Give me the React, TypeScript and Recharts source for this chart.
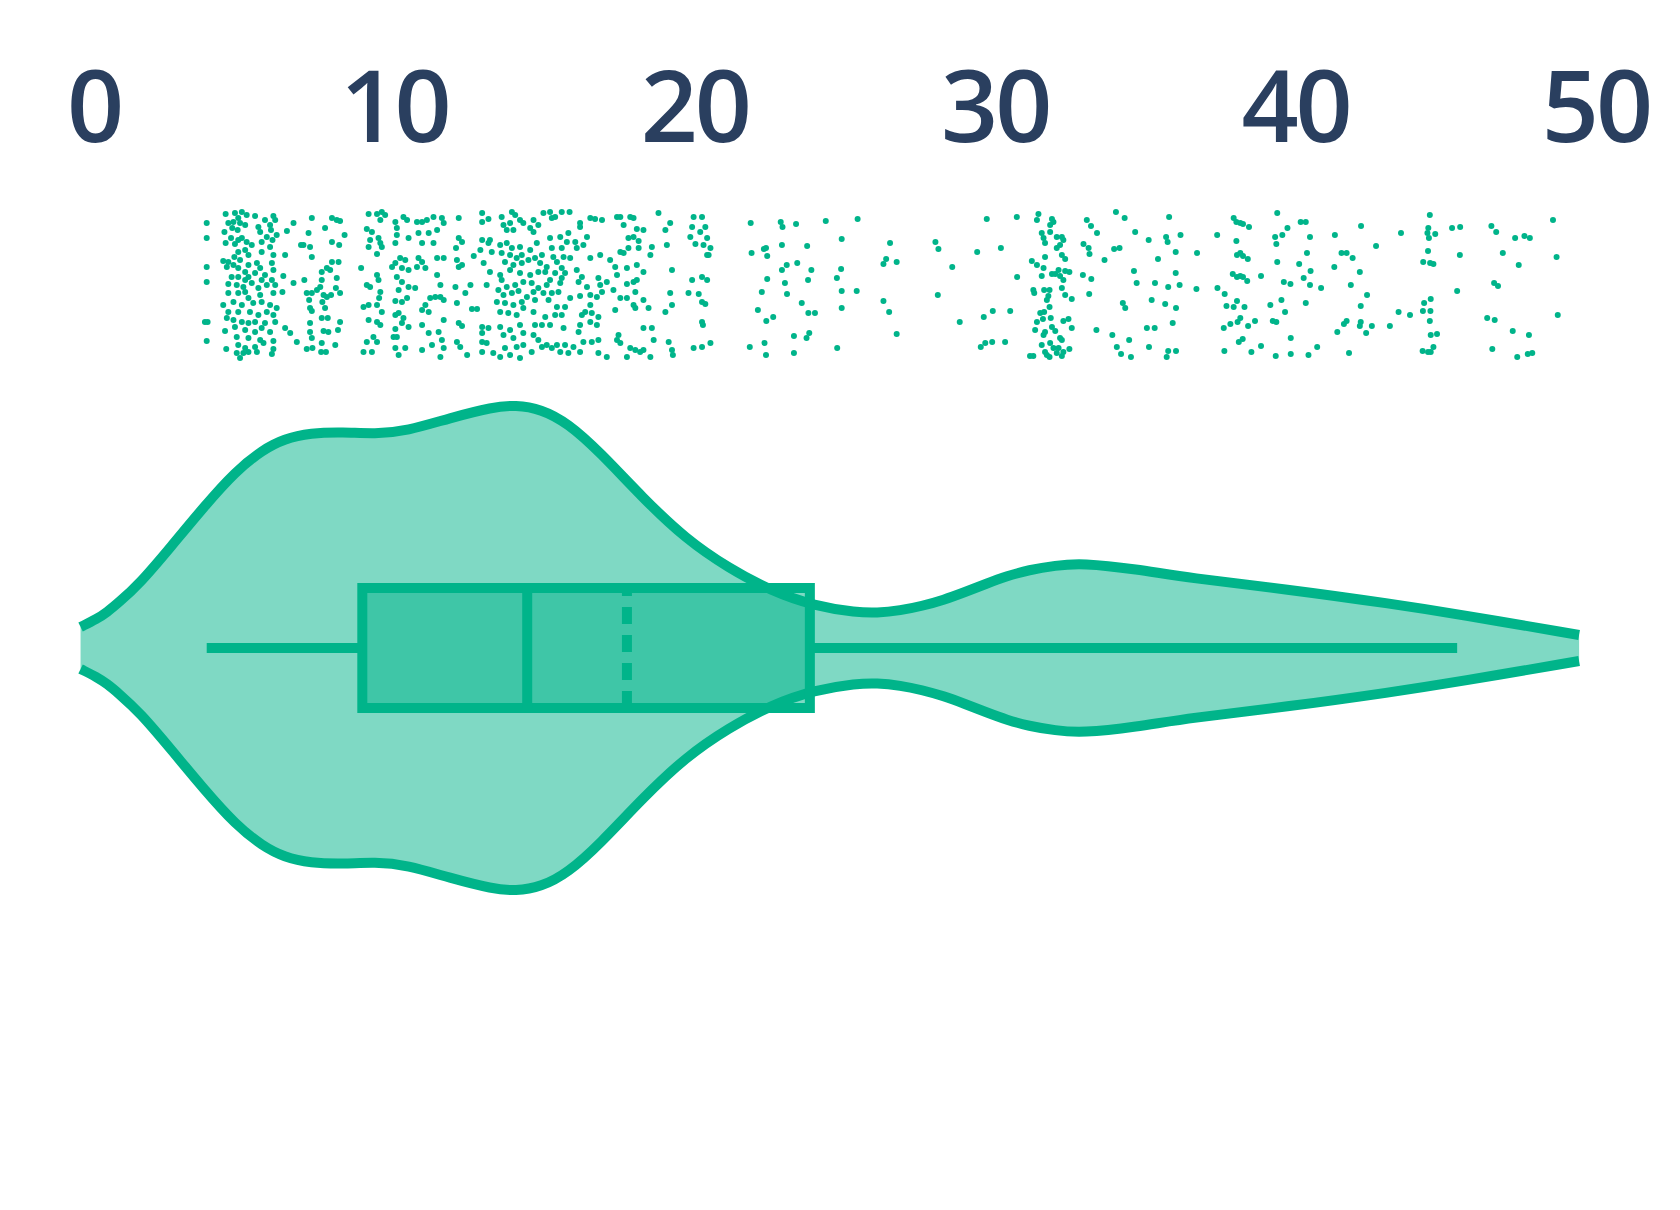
import React from "react"
import {
  ComposedChart,
  Area,
  Scatter,
  XAxis,
  YAxis,
  ReferenceArea,
  ReferenceLine,
} from "recharts"

// axis ticks along the top
const xTicks = [0, 10, 20, 30, 40, 50]

// violin outline: value -> half width (density, drawn mirrored round 0)
const violinX = [
  -0.45, 0.09, 0.44, 0.8, 1.51, 2.58, 3.65, 4.72, 5.61, 6.32, 7.21, 8.28, 9.35, 10.42, 11.85, 13.28, 14.03, 14.88,
  15.77, 16.84, 18.27, 19.7, 21.12, 22.55, 23.98, 25.4, 26.05, 26.85, 27.56, 28.28, 29.0, 29.68, 30.4, 31.11, 32.0,
  32.89, 34.68, 36.46, 39.67, 43.24, 45.38, 49.44,
]
const violinHalfWidth = [
  21, 29, 36, 45, 64, 102, 141, 177, 198, 209, 215, 216, 214, 217, 230, 241, 243, 239, 225, 196, 150, 109, 80, 57,
  42, 35.5, 35, 37.5, 42, 48, 56, 64, 72, 78, 82.5, 85, 79, 70, 59, 44, 34, 13,
]

// box statistics
const whiskerLow = 3.75
const q1 = 8.93
const median = 14.42
const mean = 17.74
const q3 = 23.83
const whiskerHigh = 45.38
const boxHalfHeight = 60

// jittered sample points [value, jitter]
const pointsLow: [number, number][] = [
  [3.75, 425], [3.75, 410], [3.75, 381], [3.75, 366], [3.69, 326], [3.78, 326], [3.75, 307],
  [4.38, 434], [4.69, 435], [4.92, 436], [5.08, 433], [4.8, 430], [4.64, 426], [4.47, 425], [4.86, 425],
  [5.03, 423], [4.78, 418], [4.34, 416], [4.6, 420], [5.36, 432], [5.69, 428], [5.97, 432], [6.03, 428],
  [5.86, 423], [5.47, 421], [5.53, 416], [5.75, 411], [6.08, 413], [5.89, 418], [4.56, 410], [4.8, 408],
  [4.92, 410], [5.08, 406], [4.69, 404], [4.38, 405], [5.25, 403], [5.58, 406], [5.94, 408], [5.86, 401],
  [5.03, 398], [4.8, 396], [4.67, 391], [5.58, 396], [5.97, 393], [5.14, 393], [4.86, 388], [4.3, 387],
  [4.47, 386], [4.42, 381], [4.64, 383], [4.8, 380], [5.03, 376], [5.14, 383], [5.42, 385], [5.53, 380],
  [5.92, 385], [5.97, 378], [5.69, 373], [5.36, 375], [5.14, 371], [4.8, 371], [4.58, 371], [5.03, 368],
  [5.58, 368], [5.92, 368], [4.47, 364], [4.75, 363], [4.97, 361], [5.25, 365], [5.47, 360], [5.75, 363],
  [6.03, 363], [4.47, 355], [4.8, 355], [5.03, 356], [5.14, 350], [5.53, 353], [5.97, 355], [4.3, 343],
  [4.64, 346], [4.92, 343], [5.3, 345], [5.58, 346], [5.86, 343], [6.08, 340], [4.47, 336], [4.8, 336],
  [5.19, 336], [5.47, 333], [5.75, 336], [5.97, 333], [4.42, 330], [4.64, 328], [4.92, 326], [5.14, 325],
  [5.36, 326], [5.69, 325], [6.03, 326], [4.69, 321], [5.03, 318], [5.36, 316], [5.58, 320], [5.86, 316],
  [4.36, 317], [4.75, 311], [5.14, 310], [5.53, 308], [5.97, 307], [4.8, 303], [5.03, 300], [5.36, 301],
  [5.64, 305], [5.97, 299], [4.75, 295], [4.97, 295], [5.14, 296], [4.86, 290], [5.42, 296], [5.92, 294],
  [4.4, 299],
  [6.3, 372], [6.36, 393], [6.27, 356], [6.36, 320], [6.53, 315], [6.42, 417], [6.64, 425], [6.64, 365],
  [6.75, 306], [6.89, 403], [6.97, 403], [7.0, 368], [7.14, 415], [7.19, 401], [7.25, 430], [7.25, 391],
  [7.08, 355], [7.25, 355], [7.16, 348], [7.19, 340], [7.25, 337], [7.19, 325], [7.19, 316], [7.25, 310],
  [7.08, 299], [7.27, 300], [7.42, 358], [7.58, 376], [7.58, 368], [7.53, 361], [7.64, 353], [7.6, 346],
  [7.75, 351], [7.69, 340], [7.58, 330], [7.78, 330], [7.64, 317], [7.8, 316], [7.58, 305], [7.56, 296],
  [7.72, 296], [7.92, 430], [8.08, 428], [8.19, 427], [7.69, 420], [7.92, 406], [8.16, 403], [8.34, 413],
  [7.75, 380], [7.86, 378], [7.92, 386], [8.14, 386], [8.08, 370], [8.19, 355], [7.89, 353], [8.19, 326],
  [8.12, 318], [8.03, 303], [8.05, 360],
]

const pointsMid: [number, number][] = [
  [9.14, 434], [9.42, 434], [9.58, 436], [9.69, 433], [9.53, 428], [9.08, 419], [9.25, 416], [9.47, 410],
  [9.19, 408], [9.14, 401], [9.53, 405], [9.58, 401], [9.42, 394], [10.03, 426], [10.08, 420], [10.3, 431],
  [10.42, 428], [10.08, 413], [10.03, 405], [10.47, 410], [10.75, 426], [10.92, 426], [11.08, 428], [11.3, 431],
  [11.58, 430], [11.64, 425], [11.42, 418], [10.8, 415], [10.92, 405], [11.14, 415], [11.3, 405], [12.14, 430],
  [12.92, 435], [12.92, 426], [12.14, 410], [12.25, 406], [12.05, 400], [12.64, 392], [12.86, 398], [12.92, 408],
  [8.89, 380], [9.19, 361], [9.08, 363], [9.42, 373], [9.47, 368], [9.53, 356], [9.49, 350], [9.14, 343],
  [8.97, 341], [9.42, 343], [9.58, 336], [9.14, 328], [9.42, 326], [9.53, 323], [9.3, 311], [9.42, 306],
  [9.08, 306], [9.25, 296], [8.97, 296], [9.92, 381], [10.03, 385], [10.19, 390], [10.36, 388], [10.47, 378],
  [10.25, 380], [10.08, 371], [10.25, 366], [10.47, 361], [10.69, 360], [10.14, 358], [10.03, 347], [10.25, 346],
  [10.42, 350], [10.03, 333], [10.14, 335], [10.3, 330], [10.25, 325], [10.47, 321], [10.03, 319], [10.08, 311],
  [9.97, 311], [10.36, 300], [10.03, 300], [10.14, 293], [10.8, 390], [10.92, 386], [11.03, 380], [10.75, 381],
  [11.42, 390], [11.64, 390], [11.42, 373], [11.53, 363], [11.53, 351], [11.19, 350], [11.36, 351], [11.64, 348],
  [11.03, 343], [10.92, 338], [11.14, 336], [11.64, 328], [10.92, 323], [11.14, 315], [11.47, 316], [11.58, 308],
  [11.25, 303], [10.92, 298], [11.64, 300], [11.53, 291], [12.08, 388], [12.25, 383], [12.14, 381], [12.03, 361],
  [12.53, 363], [12.36, 355], [12.08, 345], [12.58, 339], [12.75, 339], [12.14, 325], [12.25, 322], [12.92, 321],
  [12.92, 315], [12.08, 306], [12.19, 301], [12.42, 293], [12.92, 306], [12.92, 296], [12.97, 385],
  [13.13, 429], [13.57, 431], [13.91, 436], [14.02, 433], [14.18, 428], [13.85, 425], [13.63, 423], [13.74, 418],
  [13.96, 418], [14.29, 425], [14.63, 428], [14.79, 423], [14.52, 420], [14.96, 435], [15.18, 436], [15.35, 431],
  [15.57, 436], [15.83, 436], [15.24, 430], [14.63, 416], [13.18, 408], [13.13, 405], [13.52, 403], [13.74, 405],
  [13.91, 400], [14.18, 401], [13.24, 396], [13.57, 395], [13.85, 393], [14.07, 390], [14.24, 393], [14.52, 398],
  [14.74, 405], [14.91, 393], [15.18, 410], [15.52, 411], [15.79, 415], [15.74, 406], [15.57, 400], [15.24, 400],
  [15.29, 391], [15.63, 391], [15.85, 390], [14.68, 390], [13.68, 386], [13.96, 383], [14.24, 385], [14.46, 388],
  [14.85, 385], [15.07, 381], [15.41, 386], [15.57, 380], [13.18, 376], [13.52, 373], [13.85, 378], [14.18, 375],
  [14.52, 373], [14.79, 376], [15.02, 376], [15.35, 375], [15.68, 375], [13.07, 363], [13.57, 368], [13.74, 361],
  [14.02, 363], [14.29, 366], [14.57, 365], [14.79, 360], [15.07, 363], [15.18, 368], [15.52, 365], [15.57, 370],
  [13.46, 358], [13.63, 353], [13.91, 355], [14.13, 357], [14.41, 351], [14.63, 356], [14.96, 355], [15.24, 355],
  [15.46, 356], [13.41, 346], [13.68, 345], [13.96, 343], [14.24, 346], [14.68, 348], [15.13, 348], [15.41, 341],
  [15.68, 341], [15.85, 350], [13.52, 336], [13.79, 335], [14.07, 333], [14.29, 340], [14.63, 336], [15.02, 331],
  [15.35, 333], [15.57, 333], [13.13, 320], [13.52, 321], [13.85, 318], [14.18, 323], [14.68, 323], [14.91, 323],
  [15.18, 323], [15.63, 320], [13.63, 313], [13.96, 310], [14.29, 315], [14.63, 313], [14.79, 308], [15.07, 303],
  [15.41, 303], [15.68, 303], [13.07, 305], [13.29, 295], [13.68, 300], [14.07, 301], [14.29, 303], [14.57, 296],
  [14.91, 301], [15.24, 300], [15.52, 296], [13.52, 291], [13.85, 293], [14.18, 290], [15.79, 295],
]

const pointsUpper: [number, number][] = [
  [16.07, 400], [16.18, 421], [16.41, 411], [16.52, 430], [16.68, 429], [16.91, 428], [16.18, 425], [16.29, 403],
  [16.02, 406], [16.07, 378], [16.24, 371], [16.41, 361], [16.18, 352], [16.13, 366], [16.52, 390], [16.85, 393],
  [16.79, 370], [16.85, 363], [17.07, 366], [16.52, 353], [16.74, 351], [16.91, 356], [16.52, 343], [16.35, 336],
  [16.57, 335], [16.79, 331], [16.24, 333], [16.18, 323], [16.52, 326], [16.74, 323], [16.13, 316], [16.29, 306],
  [16.57, 306], [16.79, 308], [15.96, 301], [16.18, 296], [16.79, 295], [17.07, 291], [17.41, 431], [17.52, 431],
  [17.85, 431], [17.96, 430], [17.63, 423], [18.07, 419], [18.29, 418], [17.79, 410], [17.96, 411], [18.13, 407],
  [17.52, 396], [17.63, 395], [17.79, 400], [18.13, 400], [18.52, 393], [18.57, 401], [17.18, 388], [17.35, 381],
  [17.74, 380], [18.07, 383], [18.29, 376], [17.41, 373], [17.74, 364], [17.96, 366], [18.07, 368], [17.29, 358],
  [17.52, 350], [17.74, 350], [18.02, 356], [18.29, 348], [17.96, 343], [18.02, 340], [18.46, 340], [17.35, 338],
  [17.46, 313], [17.41, 308], [17.52, 305], [17.85, 300], [18.29, 320], [18.57, 320], [18.02, 298], [18.18, 296],
  [18.29, 298], [17.74, 291], [18.52, 291], [18.63, 308], [18.79, 435], [19.02, 418], [19.18, 425], [19.07, 403],
  [19.24, 378], [19.18, 355], [19.24, 343], [19.02, 336], [19.13, 306], [19.24, 298], [19.27, 293],
  [19.96, 431], [20.24, 431], [19.91, 421], [20.18, 416], [20.35, 421], [19.85, 411], [20.41, 410], [20.02, 404],
  [20.29, 403], [20.52, 400], [20.41, 393], [20.46, 393], [19.91, 368], [20.24, 371], [20.41, 368], [19.79, 355],
  [20.13, 354], [20.24, 346], [20.35, 344], [20.24, 326], [20.27, 323], [19.96, 300], [20.24, 301], [20.52, 305],
  [21.86, 425], [22.86, 426], [22.92, 421], [23.37, 424], [24.36, 427], [25.42, 429], [21.89, 395], [22.3, 399],
  [22.37, 400], [22.41, 392], [22.9, 403], [23.74, 402], [24.89, 409], [26.5, 405], [23.06, 383], [22.9, 378],
  [23.41, 385], [23.88, 378], [24.87, 379], [22.41, 369], [23.0, 365], [23.77, 368], [24.73, 370], [22.23, 356],
  [23.07, 354], [24.89, 357], [25.39, 357], [23.56, 345], [22.1, 338], [22.38, 327], [22.61, 331], [23.78, 335],
  [24.0, 335], [24.89, 340], [23.3, 312], [23.81, 315], [23.72, 310], [21.83, 301], [22.32, 305], [22.37, 293],
  [23.3, 295], [24.74, 300], [26.37, 389], [26.28, 384], [26.72, 386], [26.28, 347], [26.47, 336], [26.72, 314],
  [28.01, 406], [28.11, 399], [28.57, 381], [28.09, 353], [28.82, 326], [29.72, 429], [30.72, 431], [29.4, 396],
  [30.19, 400], [30.73, 371], [29.62, 331], [29.92, 337], [30.5, 337], [29.52, 301], [29.67, 305], [29.9, 306],
  [30.33, 306],
]

const pointsHigh: [number, number][] = [
  [31.44, 434], [31.39, 428], [31.89, 429], [31.94, 426], [31.83, 423], [31.55, 415], [31.61, 410], [31.66, 405],
  [32.05, 411], [32.22, 411], [32.27, 408], [31.83, 416], [32.16, 403], [32.05, 400], [31.66, 391], [32.22, 393],
  [32.33, 389], [31.22, 387], [31.39, 383], [31.61, 380], [31.89, 374], [32.0, 374], [32.11, 378], [32.33, 377],
  [32.47, 376], [32.16, 372], [32.27, 368], [31.55, 372], [31.27, 358], [31.3, 355], [31.63, 358], [31.81, 358],
  [31.77, 352], [31.72, 348], [32.22, 360], [32.33, 353], [32.55, 349], [31.81, 341], [31.5, 335], [31.63, 336],
  [31.39, 326], [31.59, 329], [31.85, 330], [31.89, 321], [32.0, 317], [31.66, 316], [31.61, 313], [31.33, 318],
  [32.27, 327], [32.44, 329], [32.55, 320], [32.16, 310], [32.22, 308], [31.83, 305], [31.55, 303], [31.94, 300],
  [32.11, 300], [32.47, 299], [31.66, 296], [31.72, 293], [32.05, 295], [32.27, 296], [32.22, 292], [31.16, 292],
  [31.27, 292], [31.81, 291],
  [33.05, 428], [33.19, 422], [33.39, 415], [32.94, 404], [33.11, 400], [33.14, 394], [33.64, 388], [32.92, 373],
  [33.2, 369], [33.13, 354], [34.02, 436], [34.31, 430], [33.96, 399], [34.14, 400], [34.66, 416], [35.11, 408],
  [35.69, 411], [35.74, 406], [36.17, 413], [35.79, 431], [34.62, 377], [34.71, 365], [35.32, 365], [35.42, 389],
  [36.01, 396], [36.01, 375], [35.76, 361], [36.14, 363], [36.72, 395], [36.7, 359], [34.25, 345], [34.33, 340],
  [35.21, 348], [35.66, 344], [36.02, 340], [35.91, 325], [33.37, 318], [33.9, 313], [34.46, 308], [35.05, 320],
  [35.31, 320], [34.05, 301], [34.19, 294], [34.52, 291], [35.12, 301], [35.76, 297], [36.02, 297], [35.71, 291],
  [37.39, 413], [37.94, 430], [38.03, 426], [38.16, 425], [38.25, 424], [38.45, 421], [38.03, 407], [38.05, 393],
  [38.16, 395], [38.25, 392], [38.41, 389], [37.91, 374], [38.05, 371], [38.16, 372], [38.25, 371], [38.39, 367],
  [38.85, 372], [37.4, 360], [37.64, 354], [38.05, 347], [37.7, 342], [37.94, 341], [38.3, 341], [37.61, 320],
  [37.83, 324], [38.07, 326], [38.16, 330], [38.42, 322], [38.65, 327], [38.11, 306], [38.24, 309], [37.63, 297],
  [38.53, 296], [38.85, 302], [39.39, 435], [39.73, 420], [39.32, 411], [39.56, 413], [39.36, 404], [39.39, 386],
  [39.61, 366], [39.83, 364], [39.53, 348], [39.16, 343], [39.65, 336], [39.24, 327], [39.36, 326], [39.34, 292],
  [40.17, 426], [40.34, 426], [40.48, 411], [40.38, 395], [40.12, 384], [40.5, 377], [40.27, 370], [40.48, 363],
  [40.85, 360], [40.34, 345], [39.84, 310], [39.84, 294], [40.43, 293], [40.72, 301], [41.31, 413], [42.18, 422],
  [42.68, 402], [41.53, 395], [41.7, 395], [41.9, 390], [41.29, 381], [42.14, 376], [41.84, 363], [42.38, 353],
  [42.17, 342], [41.39, 316], [41.61, 324], [41.7, 327], [42.17, 326], [42.14, 322], [42.54, 322], [42.35, 315],
  [41.78, 295], [43.51, 415], [43.14, 322], [43.43, 336], [43.81, 333], [44.47, 433], [44.42, 420], [44.39, 415],
  [44.44, 410], [44.65, 414], [44.41, 397], [44.25, 386], [44.48, 385], [44.59, 384], [44.5, 349], [44.28, 345],
  [44.24, 337], [44.49, 337], [44.47, 327], [44.5, 313], [44.71, 314], [44.59, 301], [44.23, 297], [44.41, 296],
  [44.5, 296], [45.21, 420], [45.48, 421], [45.47, 393], [45.38, 357], [46.52, 422], [46.68, 416], [46.9, 395],
  [47.31, 410], [47.62, 412], [47.8, 410], [47.43, 383], [46.61, 365], [46.74, 362], [46.38, 330], [46.63, 328],
  [47.23, 317], [47.77, 313], [46.55, 299], [47.38, 291], [47.73, 294], [47.88, 295], [48.57, 428], [48.69, 391],
  [48.73, 333],
]

const GREEN = "#00b48a"
const LABEL = "#2a3f5f"
const LINE_W = 10

const violinData = violinX.map((x, i) => ({ x, range: [-violinHalfWidth[i], violinHalfWidth[i]] }))
const jitterData = [...pointsLow, ...pointsMid, ...pointsUpper, ...pointsHigh].map(([x, y]) => ({ x, y }))

const TopTick = (props: any) => {
  const { x, payload } = props
  return (
    <text
      x={x}
      y={134}
      textAnchor="middle"
      fill={LABEL}
      fontSize={100}
      fontWeight={600}
      letterSpacing={-3}
      fontFamily="'Open Sans', sans-serif"
    >
      {payload.value}
    </text>
  )
}

const Dot = (props: any) => <circle cx={props.cx} cy={props.cy} r={3} fill={GREEN} />

export default function App() {
  return (
    <div style={{ width: 1664, height: 1194, background: "#fff" }}>
      <ComposedChart
        width={1664}
        height={1194}
        data={violinData}
        margin={{ top: 52, right: 16, bottom: 66, left: 26 }}
      >
        <XAxis
          type="number"
          dataKey="x"
          orientation="top"
          domain={[-2, 52]}
          ticks={xTicks}
          height={100}
          axisLine={false}
          tickLine={false}
          tick={<TopTick />}
          allowDataOverflow
        />
        <YAxis type="number" domain={[-488, 488]} hide allowDataOverflow />
        <Area
          dataKey="range"
          type="basis"
          stroke={GREEN}
          strokeWidth={LINE_W}
          fill={GREEN}
          fillOpacity={0.5}
          dot={false}
          activeDot={false}
          isAnimationActive={false}
        />
        <ReferenceArea
          x1={q1}
          x2={q3}
          y1={-boxHalfHeight}
          y2={boxHalfHeight}
          fill={GREEN}
          fillOpacity={0.5}
          stroke={GREEN}
          strokeWidth={LINE_W}
          strokeOpacity={1}
          zIndex={150}
        />
        <ReferenceLine
          segment={[{ x: whiskerLow, y: 0 }, { x: q1, y: 0 }]}
          stroke={GREEN}
          strokeWidth={LINE_W}
          zIndex={160}
        />
        <ReferenceLine
          segment={[{ x: q3, y: 0 }, { x: whiskerHigh, y: 0 }]}
          stroke={GREEN}
          strokeWidth={LINE_W}
          zIndex={160}
        />
        <ReferenceLine
          segment={[{ x: median, y: -boxHalfHeight }, { x: median, y: boxHalfHeight }]}
          stroke={GREEN}
          strokeWidth={LINE_W}
          zIndex={160}
        />
        <ReferenceLine
          segment={[{ x: mean, y: -boxHalfHeight }, { x: mean, y: boxHalfHeight }]}
          stroke={GREEN}
          strokeWidth={LINE_W}
          strokeDasharray="17 11"
          zIndex={160}
        />
        <Scatter data={jitterData} dataKey="y" shape={<Dot />} isAnimationActive={false} />
      </ComposedChart>
    </div>
  )
}
